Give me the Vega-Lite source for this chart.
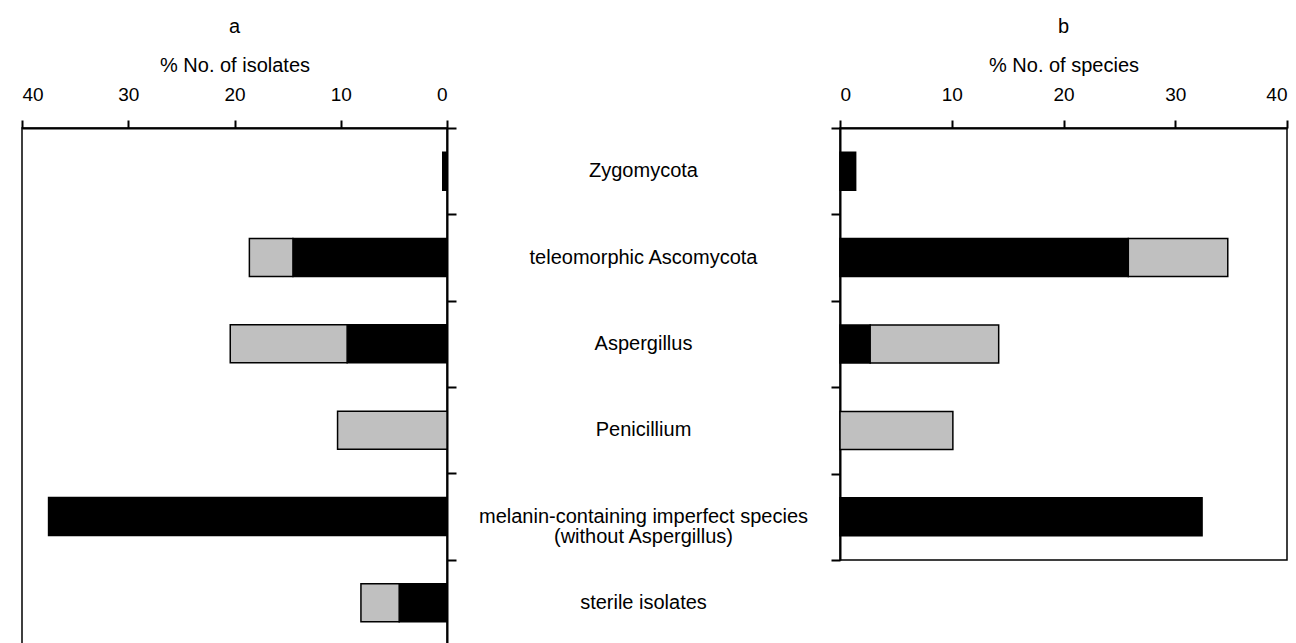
{
  "$schema": "https://vega.github.io/schema/vega-lite/v6.json",
  "autosize": {"type": "pad"},
  "padding": {"left": 20, "top": 16, "right": 0, "bottom": 0},
  "background": "white",
  "datasets": {
    "isolates": [
      {"group": "Zygomycota", "series": "dark", "pct": 0.4},
      {"group": "teleomorphic Ascomycota", "series": "dark", "pct": 14.5},
      {"group": "teleomorphic Ascomycota", "series": "light", "pct": 4.1},
      {"group": "Aspergillus", "series": "dark", "pct": 9.4},
      {"group": "Aspergillus", "series": "light", "pct": 11.0},
      {"group": "Penicillium", "series": "light", "pct": 10.3},
      {"group": "melanin-containing imperfect species\n(without Aspergillus)", "series": "dark", "pct": 37.5},
      {"group": "sterile isolates", "series": "dark", "pct": 4.5},
      {"group": "sterile isolates", "series": "light", "pct": 3.6}
    ],
    "species": [
      {"group": "Zygomycota", "series": "dark", "pct": 1.4},
      {"group": "teleomorphic Ascomycota", "series": "dark", "pct": 25.8},
      {"group": "teleomorphic Ascomycota", "series": "light", "pct": 8.9},
      {"group": "Aspergillus", "series": "dark", "pct": 2.7},
      {"group": "Aspergillus", "series": "light", "pct": 11.5},
      {"group": "Penicillium", "series": "light", "pct": 10.1},
      {"group": "melanin-containing imperfect species\n(without Aspergillus)", "series": "dark", "pct": 32.4}
    ],
    "labels": [
      {"group": "Zygomycota"},
      {"group": "teleomorphic Ascomycota"},
      {"group": "Aspergillus"},
      {"group": "Penicillium"},
      {"group": "melanin-containing imperfect species\n(without Aspergillus)"},
      {"group": "sterile isolates"}
    ]
  },
  "hconcat": [
    {
      "width": 425,
      "height": 518,
      "view": {"stroke": "black", "strokeWidth": 1.5},
      "title": {"text": "a", "fontSize": 20, "font": "Liberation Sans", "fontWeight": "normal", "offset": 18},
      "data": {"name": "isolates"},
      "mark": {"type": "bar", "height": {"band": 0.44}, "stroke": "black", "strokeWidth": 1.5},
      "encoding": {
        "y": {
          "field": "group", "type": "nominal",
          "sort": ["Zygomycota", "teleomorphic Ascomycota", "Aspergillus", "Penicillium", "melanin-containing imperfect species\n(without Aspergillus)", "sterile isolates"],
          "scale": {"paddingInner": 0, "paddingOuter": 0},
          "axis": {"orient": "right", "labels": false, "title": null, "tickBand": "extent", "tickSize": 9, "tickWidth": 2, "domainWidth": 2, "domainColor": "black", "tickColor": "black"}
        },
        "x": {
          "field": "pct", "type": "quantitative", "stack": "zero",
          "scale": {"domain": [0, 40], "reverse": true, "nice": false},
          "axis": {"orient": "top", "values": [0, 10, 20, 30, 40], "title": "% No. of isolates", "grid": false, "tickSize": 8, "tickWidth": 2, "domainWidth": 2, "domainColor": "black", "tickColor": "black", "labelBaseline": "alphabetic", "labelPadding": 20, "titlePadding": 10}
        },
        "color": {"field": "series", "type": "nominal", "scale": {"domain": ["dark", "light"], "range": ["#000000", "#c0c0c0"]}, "legend": null},
        "order": {"field": "series", "sort": "ascending"}
      }
    },
    {
      "width": 393,
      "height": 518,
      "view": {"stroke": null},
      "data": {"name": "labels"},
      "mark": {"type": "text", "fontSize": 20, "font": "Liberation Sans", "align": "center", "baseline": "middle", "lineBreak": "\n", "lineHeight": 20, "color": "black"},
      "encoding": {
        "y": {
          "field": "group", "type": "nominal",
          "sort": ["Zygomycota", "teleomorphic Ascomycota", "Aspergillus", "Penicillium", "melanin-containing imperfect species\n(without Aspergillus)", "sterile isolates"],
          "scale": {"paddingInner": 0, "paddingOuter": 0},
          "axis": null
        },
        "x": {"datum": 0, "type": "quantitative", "scale": {"domain": [-1, 1]}, "axis": null},
        "text": {"field": "group"}
      }
    },
    {
      "width": 447,
      "height": 432,
      "view": {"stroke": "black", "strokeWidth": 1.5},
      "title": {"text": "b", "fontSize": 20, "font": "Liberation Sans", "fontWeight": "normal", "offset": 18},
      "data": {"name": "species"},
      "mark": {"type": "bar", "height": {"band": 0.44}, "stroke": "black", "strokeWidth": 1.5},
      "encoding": {
        "y": {
          "field": "group", "type": "nominal",
          "sort": ["Zygomycota", "teleomorphic Ascomycota", "Aspergillus", "Penicillium", "melanin-containing imperfect species\n(without Aspergillus)"],
          "scale": {"domain": ["Zygomycota", "teleomorphic Ascomycota", "Aspergillus", "Penicillium", "melanin-containing imperfect species\n(without Aspergillus)"], "paddingInner": 0, "paddingOuter": 0},
          "axis": {"orient": "left", "labels": false, "title": null, "tickBand": "extent", "tickSize": 9, "tickWidth": 2, "domainWidth": 2, "domainColor": "black", "tickColor": "black"}
        },
        "x": {
          "field": "pct", "type": "quantitative", "stack": "zero",
          "scale": {"domain": [0, 40], "nice": false},
          "axis": {"orient": "top", "values": [0, 10, 20, 30, 40], "title": "% No. of species", "grid": false, "tickSize": 8, "tickWidth": 2, "domainWidth": 2, "domainColor": "black", "tickColor": "black", "labelBaseline": "alphabetic", "labelPadding": 20, "titlePadding": 10}
        },
        "color": {"field": "series", "type": "nominal", "scale": {"domain": ["dark", "light"], "range": ["#000000", "#c0c0c0"]}, "legend": null},
        "order": {"field": "series", "sort": "ascending"}
      }
    }
  ],
  "spacing": 0,
  "bounds": "flush",
  "resolve": {"scale": {"color": "independent", "y": "independent", "x": "independent"}},
  "config": {
    "font": "Liberation Sans",
    "axis": {"labelFont": "Liberation Sans", "labelFontSize": 19, "labelColor": "black", "titleFont": "Liberation Sans", "titleFontSize": 20, "titleFontWeight": "normal", "titleColor": "black"},
    "title": {"color": "black", "anchor": "middle"}
  }
}
